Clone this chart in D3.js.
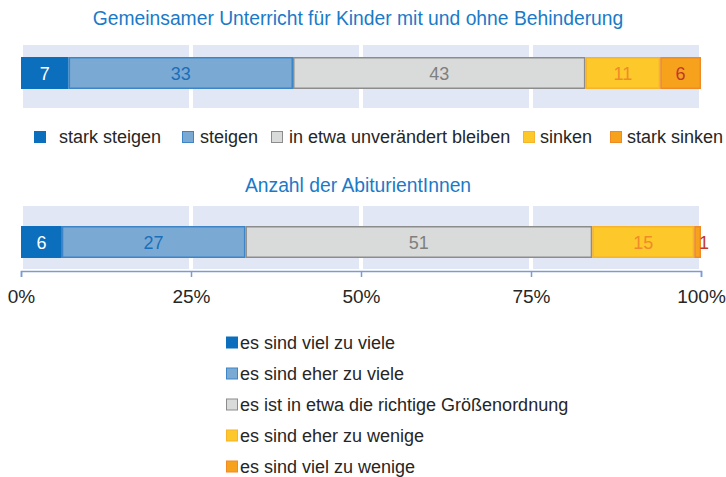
<!DOCTYPE html>
<html>
<head>
<meta charset="utf-8">
<script src="https://cdn.jsdelivr.net/npm/d3@7"></script>
<style>
body { margin: 0; background: #fff; }
text { font-family: "Liberation Sans", Arial, sans-serif; }
</style>
</head>
<body>
<div id="chart"></div>
<script>
var width = 726,
  height = 477;

// data
var titles = ["Gemeinsamer Unterricht für Kinder mit und ohne Behinderung", "Anzahl der AbiturientInnen"];
var values1 = [7, 33, 43, 11, 6];
var values2 = [6, 27, 51, 15, 1];
var legend1 = ["stark steigen", "steigen", "in etwa unverändert bleiben", "sinken", "stark sinken"];
var legend2 = ["es sind viel zu viele", "es sind eher zu viele", "es ist in etwa die richtige Größenordnung", "es sind eher zu wenige", "es sind viel zu wenige"];
var ticks = [0, 25, 50, 75, 100];

var fills = ["#0b6fbd", "#7aaad4", "#d9dbda", "#fdc82a", "#f7a21d"];
var strokes = ["#0b6fbd", "#3d85c6", "#8c8c8c", "#f7b32a", "#f08a25"];
var labelColors = ["#ffffff", "#1a6fb8", "#7f7f7f", "#f08a2a", "#c0392b"];

var svg = d3.select("#chart").append("svg")
  .attr("width", width)
  .attr("height", height);

var x = d3.scaleLinear().domain([0, 100]).range([21, 701]);

function stack(vals) {
  var acc = 0;
  return vals.map(function (v, i) {
    var d = { i: i, v: v, x0: acc, x1: acc + v };
    acc += v;
    return d;
  });
}

function drawPanel(title, vals, titleY, bgTop, bgBottom, barTop, barH) {
  svg.append("text")
    .attr("x", 358)
    .attr("y", titleY)
    .attr("text-anchor", "middle")
    .attr("font-size", 19.3)
    .attr("fill", "#1a7ac8")
    .text(title);

  // background bands between gridlines
  svg.selectAll(null).data([0, 25, 50, 75]).enter().append("rect")
    .attr("x", function (d) { return x(d) + 2; })
    .attr("width", function (d) { return x(d + 25) - x(d) - 4; })
    .attr("y", bgTop)
    .attr("height", bgBottom - bgTop)
    .attr("fill", "#e1e7f4");

  var seg = svg.selectAll(null).data(stack(vals)).enter().append("g");

  seg.append("rect")
    .attr("x", function (d) { return x(d.x0) + 0.75; })
    .attr("width", function (d) { return Math.max(0, x(d.x1) - x(d.x0) - 1.5); })
    .attr("y", barTop + 0.75)
    .attr("height", barH - 1.5)
    .attr("fill", function (d) { return fills[d.i]; })
    .attr("stroke", function (d) { return strokes[d.i]; })
    .attr("stroke-width", 1.5);

  seg.append("text")
    .attr("x", function (d) { return d.v < 3 ? x(d.x1) + 3 : (x(d.x0) + x(d.x1)) / 2; })
    .attr("y", barTop + barH / 2 + 6.5)
    .attr("text-anchor", "middle")
    .attr("font-size", 18)
    .attr("fill", function (d) { return labelColors[d.i]; })
    .text(function (d) { return d.v; });
}

drawPanel(titles[0], values1, 25, 45, 108, 57, 32);
drawPanel(titles[1], values2, 192, 206, 269, 226, 32);

// top legend (horizontal)
var leg1X = [34, 182, 271, 523, 610];
var leg1T = [59, 200, 289, 540, 627];
var lg1 = svg.selectAll(null).data(legend1).enter().append("g");
lg1.append("rect")
  .attr("x", function (d, i) { return leg1X[i] + 0.5; })
  .attr("y", 131.5)
  .attr("width", 11)
  .attr("height", 11)
  .attr("fill", function (d, i) { return fills[i]; })
  .attr("stroke", function (d, i) { return strokes[i]; });
lg1.append("text")
  .attr("x", function (d, i) { return leg1T[i]; })
  .attr("y", 143)
  .attr("font-size", 18)
  .attr("fill", "#262626")
  .text(function (d) { return d; });

// axis
var axis = svg.append("g")
  .attr("transform", "translate(0,271)")
  .call(d3.axisBottom(x).tickValues(ticks).tickSize(6).tickPadding(13).tickFormat(function (d) { return d + "%"; }));
axis.select(".domain").attr("stroke", "#7b9bd4").attr("stroke-width", 1.5);
axis.selectAll(".tick line").attr("stroke", "#7b9bd4").attr("stroke-width", 1.5);
axis.selectAll(".tick text")
  .attr("font-size", 19)
  .attr("fill", "#262626")
  .attr("font-family", "Liberation Sans, Arial, sans-serif");

// bottom legend (vertical)
var lg2 = svg.selectAll(null).data(legend2).enter().append("g")
  .attr("transform", function (d, i) { return "translate(226," + (342.5 + i * 31) + ")"; });
lg2.append("rect")
  .attr("x", 0.5)
  .attr("y", -5.5)
  .attr("width", 11)
  .attr("height", 11)
  .attr("fill", function (d, i) { return fills[i]; })
  .attr("stroke", function (d, i) { return strokes[i]; });
lg2.append("text")
  .attr("x", 14)
  .attr("y", 6.5)
  .attr("font-size", 18)
  .attr("fill", "#262626")
  .text(function (d) { return d; });
</script>
</body>
</html>
